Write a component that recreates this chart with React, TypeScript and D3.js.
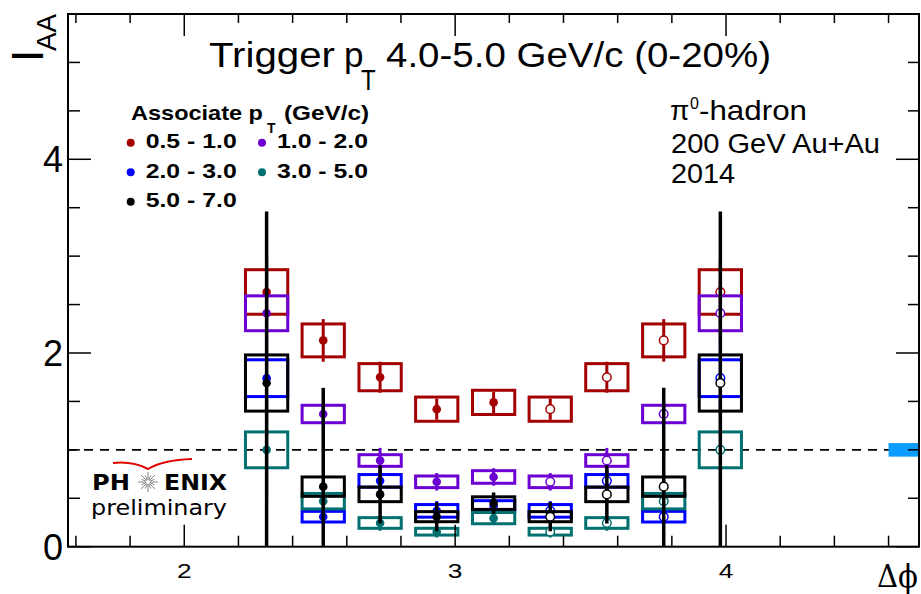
import React from 'react';
import * as d3 from 'd3';

const W = 921;
const H = 594;

// bin centres in delta-phi (rad)
const dphi = [2.304, 2.513, 2.723, 2.932, 3.142, 3.351, 3.560, 3.770, 3.979];
const openFromIndex = 5; // mirrored points drawn open

const assocLabels = ['0.5 - 1.0', '1.0 - 2.0', '2.0 - 3.0', '3.0 - 5.0', '5.0 - 7.0'];
const seriesColors = ['#a30000', '#6c00d2', '#0000ff', '#007070', '#000000'];

const iaa05 = [2.63, 2.13, 1.75, 1.42, 1.49, 1.42, 1.75, 2.13, 2.63];
const stat05 = [0.35, 0.22, 0.16, 0.11, 0.11, 0.11, 0.16, 0.22, 0.35];
const sys05 = [0.23, 0.17, 0.14, 0.125, 0.125, 0.125, 0.14, 0.17, 0.23];

const iaa10 = [2.41, 1.37, 0.89, 0.67, 0.72, 0.67, 0.89, 1.37, 2.41];
const stat10 = [0.3, 0.08, 0.13, 0.09, 0.09, 0.09, 0.13, 0.08, 0.3];
const sys10 = [0.18, 0.09, 0.06, 0.06, 0.065, 0.06, 0.06, 0.09, 0.18];

const iaa20 = [1.74, 0.31, 0.68, 0.37, 0.42, 0.37, 0.68, 0.31, 1.74];
const stat20 = [0.4, 0.06, 0.12, 0.1, 0.1, 0.1, 0.12, 0.06, 0.4];
const sys20 = [0.19, 0.055, 0.065, 0.065, 0.055, 0.065, 0.065, 0.055, 0.19];

const iaa30 = [1.0, 0.47, 0.245, 0.155, 0.295, 0.155, 0.245, 0.47, 1.0];
const stat30 = [0.5, 0.1, 0.08, 0.06, 0.06, 0.06, 0.08, 0.1, 0.5];
const sys30 = [0.185, 0.08, 0.055, 0.035, 0.058, 0.035, 0.055, 0.08, 0.185];

const iaa50 = [1.69, 0.62, 0.54, 0.31, 0.45, 0.31, 0.54, 0.62, 1.69];
const stat50 = [1.77, 1.02, 0.30, 0.15, 0.11, 0.15, 0.30, 1.02, 1.77];
const sys50 = [0.29, 0.10, 0.075, 0.052, 0.065, 0.052, 0.075, 0.10, 0.29];

const xMajorTicks = [2, 3, 4];
const yMajorTicks = [0, 2, 4];
const normUncertainty = 0.07;

const SANS = '"Liberation Sans", Arial, Helvetica, sans-serif';
const DEJAVU = '"DejaVu Sans", sans-serif';
const SERIF = '"DejaVu Serif", "Liberation Serif", serif';

const left = 68;
const right = 919;
const top = 14;
const bottom = 546.7;

export default function App() {
  const x = d3.scaleLinear().domain([Math.PI / 2, (3 * Math.PI) / 2]).range([left, right]);
  const y = d3.scaleLinear().domain([0, 5.5]).range([bottom, top]);

  const series = [
    { v: iaa05, s: stat05, sy: sys05 },
    { v: iaa10, s: stat10, sy: sys10 },
    { v: iaa20, s: stat20, sy: sys20 },
    { v: iaa30, s: stat30, sy: sys30 },
    { v: iaa50, s: stat50, sy: sys50 },
  ];

  const halfW = 0.078;

  const xMinor = d3.range(8, 24).map((i) => i * 0.2).filter((v) => Math.abs(v - Math.round(v)) > 1e-6);
  const yMinor = d3.range(1, 11).map((i) => i * 0.5).filter((v) => !yMajorTicks.includes(v));

  const starRays = d3.range(16).map((i) => (i * Math.PI) / 8);

  return (
    <svg width={W} height={H} style={{ position: 'absolute', left: 0, top: 0, background: '#fff' }}>
      <defs>
        <clipPath id="frameClip">
          <rect x={left} y={top} width={right - left} height={bottom - top} />
        </clipPath>
      </defs>
      <rect x={0} y={0} width={W} height={H} fill="#fff" />

      {/* dashed line at 1 */}
      <line x1={left} x2={right} y1={y(1)} y2={y(1)} stroke="#000" strokeWidth={1.6} strokeDasharray="9,7" />
      {/* normalisation uncertainty */}
      <rect x={x(4.6)} y={y(1 + normUncertainty)} width={right - x(4.6)} height={y(1 - normUncertainty) - y(1 + normUncertainty)} fill="#0a9cff" />

      {/* data */}
      <g clipPath="url(#frameClip)">
        {series.map((se, si) => (
          <g key={si}>
            {se.v.map((v, i) => (
              <rect
                key={'b' + i}
                x={x(dphi[i] - halfW)}
                y={y(v + se.sy[i])}
                width={x(dphi[i] + halfW) - x(dphi[i] - halfW)}
                height={y(v - se.sy[i]) - y(v + se.sy[i])}
                fill="none"
                stroke={seriesColors[si]}
                strokeWidth={3}
              />
            ))}
            {se.v.map((v, i) => (
              <line
                key={'e' + i}
                x1={x(dphi[i])}
                x2={x(dphi[i])}
                y1={y(v + se.s[i])}
                y2={y(Math.max(v - se.s[i], -0.2))}
                stroke={seriesColors[si]}
                strokeWidth={si === 4 ? 3.5 : 3}
              />
            ))}
            {se.v.map((v, i) =>
              i >= openFromIndex ? (
                <circle key={'m' + i} cx={x(dphi[i])} cy={y(v)} r={4.3} fill="#fff" stroke={seriesColors[si]} strokeWidth={1.5} />
              ) : (
                <circle key={'m' + i} cx={x(dphi[i])} cy={y(v)} r={4.3} fill={seriesColors[si]} />
              )
            )}
          </g>
        ))}
      </g>

      {/* frame */}
      <rect x={left} y={top} width={right - left} height={bottom - top} fill="none" stroke="#000" strokeWidth={2} />

      {/* x ticks */}
      {xMajorTicks.map((t) => (
        <g key={'xm' + t}>
          <line x1={x(t)} x2={x(t)} y1={bottom} y2={bottom - 22} stroke="#000" strokeWidth={1.5} />
          <line x1={x(t)} x2={x(t)} y1={top} y2={top + 22} stroke="#000" strokeWidth={1.5} />
          <text
            transform={`translate(${x(t)},577.5) scale(1.25,1)`}
            textAnchor="middle"
            fontFamily={SANS}
            fontSize={21}
          >
            {t}
          </text>
        </g>
      ))}
      {xMinor.map((t) => (
        <g key={'xn' + t}>
          <line x1={x(t)} x2={x(t)} y1={bottom} y2={bottom - 11} stroke="#000" strokeWidth={1.5} />
          <line x1={x(t)} x2={x(t)} y1={top} y2={top + 9} stroke="#000" strokeWidth={1.5} />
        </g>
      ))}

      {/* y ticks */}
      {yMajorTicks.map((t) => (
        <g key={'ym' + t}>
          <line x1={left} x2={left + 23} y1={y(t)} y2={y(t)} stroke="#000" strokeWidth={1.5} />
          <line x1={right} x2={right - 23} y1={y(t)} y2={y(t)} stroke="#000" strokeWidth={1.5} />
          <text x={63} y={y(t) + 13} textAnchor="end" fontFamily={SANS} fontSize={36}>
            {t}
          </text>
        </g>
      ))}
      {yMinor.map((t) => (
        <g key={'yn' + t}>
          <line x1={left} x2={left + 12} y1={y(t)} y2={y(t)} stroke="#000" strokeWidth={1.5} />
          <line x1={right} x2={right - 11} y1={y(t)} y2={y(t)} stroke="#000" strokeWidth={1.5} />
        </g>
      ))}

      {/* axis titles */}
      <g transform="translate(43,62) rotate(-90)">
        <text x={0} y={0} fontFamily={SANS} fontSize={44}>I</text>
        <text x={11} y={13} fontFamily={SANS} fontSize={27} textLength={37} lengthAdjust="spacingAndGlyphs">AA</text>
      </g>
      <text x={918} y={587} textAnchor="end" fontFamily={SERIF} fontSize={32} textLength={41} lengthAdjust="spacingAndGlyphs">
        Δϕ
      </text>

      {/* title */}
      <text x={209} y={67} fontFamily={SANS} fontSize={35} textLength={126} lengthAdjust="spacingAndGlyphs">Trigger</text>
      <text x={344} y={67} fontFamily={SANS} fontSize={35}>p</text>
      <text transform="translate(361,90) scale(0.8,1)" fontFamily={SANS} fontSize={30}>T</text>
      <text x={386} y={67} fontFamily={SANS} fontSize={35} textLength={385} lengthAdjust="spacingAndGlyphs">
        4.0-5.0 GeV/c (0-20%)
      </text>

      {/* legend */}
      <text x={131} y={120} fontFamily={SANS} fontWeight="bold" fontSize={21} textLength={132} lengthAdjust="spacingAndGlyphs">
        Associate p
      </text>
      <text x={267} y={133} fontFamily={SANS} fontWeight="bold" fontSize={14}>T</text>
      <text x={284} y={120} fontFamily={SANS} fontWeight="bold" fontSize={21} textLength={85} lengthAdjust="spacingAndGlyphs">
        (GeV/c)
      </text>
      {assocLabels.map((lab, i) => {
        const col = i % 2;
        const row = Math.floor(i / 2);
        const dx = col === 0 ? 130.7 : 262;
        const dy = 142.7 + row * 29.5;
        return (
          <g key={'lg' + i}>
            <circle cx={dx} cy={dy} r={4} fill={seriesColors[i]} />
            <text x={dx + 15} y={dy + 5.5} fontFamily={SANS} fontWeight="bold" fontSize={21} textLength={91} lengthAdjust="spacingAndGlyphs">
              {lab}
            </text>
          </g>
        );
      })}

      {/* info text */}
      <text x={670} y={120} fontFamily={SANS} fontSize={28}>π</text>
      <text x={690} y={109} fontFamily={SANS} fontSize={16}>0</text>
      <text x={699} y={120} fontFamily={SANS} fontSize={28} textLength={108} lengthAdjust="spacingAndGlyphs">-hadron</text>
      <text x={671} y={153} fontFamily={SANS} fontSize={28} textLength={209} lengthAdjust="spacingAndGlyphs">200 GeV Au+Au</text>
      <text x={671} y={183} fontFamily={SANS} fontSize={28} textLength={64} lengthAdjust="spacingAndGlyphs">2014</text>

      {/* PHENIX logo */}
      <path d="M113,463 Q133,461 148,469 Q163,460 192,459" fill="none" stroke="#e00000" strokeWidth={2} />
      <text x={92} y={490} fontFamily={DEJAVU} fontWeight="bold" fontSize={22} textLength={38} lengthAdjust="spacingAndGlyphs">PH</text>
      {starRays.map((a, i) => (
        <line
          key={'ray' + i}
          x1={148 + Math.cos(a) * 2}
          y1={482 + Math.sin(a) * 2}
          x2={148 + Math.cos(a) * (i % 2 === 0 ? 10 : 7)}
          y2={482 + Math.sin(a) * (i % 2 === 0 ? 10 : 7)}
          stroke="#777"
          strokeWidth={0.9}
        />
      ))}
      <text x={164} y={490} fontFamily={DEJAVU} fontWeight="bold" fontSize={22} textLength={63} lengthAdjust="spacingAndGlyphs">ENIX</text>
      <text x={91} y={515} fontFamily={DEJAVU} fontSize={22} textLength={136} lengthAdjust="spacingAndGlyphs">preliminary</text>
    </svg>
  );
}
